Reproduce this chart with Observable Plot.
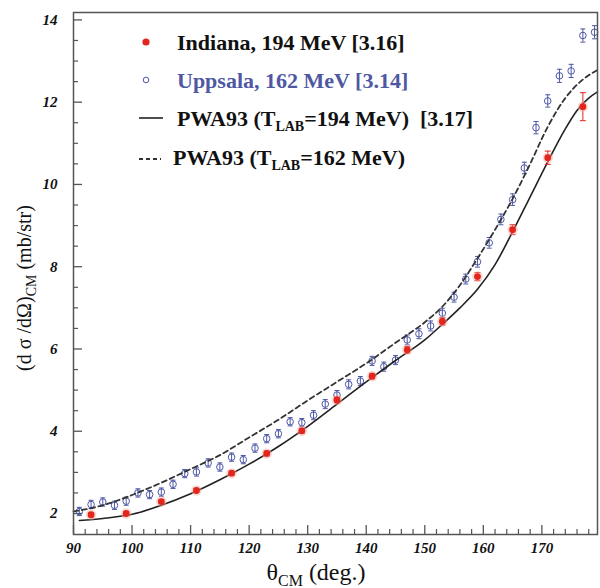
<!DOCTYPE html>
<html><head><meta charset="utf-8">
<script src="https://cdn.jsdelivr.net/npm/d3@7"></script>
<script src="https://cdn.jsdelivr.net/npm/@observablehq/plot@0.6"></script>
<style>
body{margin:0;background:#fff;}
#chart{width:600px;height:588px;}
</style></head><body><div id="chart"></div>
<script>
// Indiana, 194 MeV [3.16]
const indianaAngle = [93,99,105,111,117,123,129,135,141,147,153,159,165,171,177];
const indianaValue = [1.97,2.0,2.29,2.56,2.98,3.46,4.01,4.76,5.34,5.98,6.67,7.76,8.9,10.65,11.89];
const indianaError = [0.05,0.05,0.05,0.05,0.05,0.06,0.06,0.07,0.07,0.08,0.09,0.1,0.12,0.16,0.34];

// Uppsala, 162 MeV [3.14]
const uppsalaAngle = [91,93,95,97,99,101,103,105,107,109,111,113,115,117,119,121,123,125,127,129,131,133,135,137,139,141,143,145,147,149,151,153,155,157,159,161,163,165,167,169,171,173,175,177,179];
const uppsalaValue = [2.05,2.22,2.28,2.20,2.30,2.50,2.46,2.52,2.71,2.97,3.01,3.23,3.13,3.37,3.31,3.59,3.82,3.94,4.23,4.21,4.39,4.66,4.88,5.14,5.22,5.71,5.57,5.73,6.22,6.37,6.56,6.87,7.26,7.70,8.12,8.58,9.15,9.63,10.40,11.38,12.03,12.64,12.76,13.62,13.70];
const uppsalaError = [0.1,0.1,0.1,0.1,0.1,0.1,0.1,0.1,0.1,0.1,0.1,0.1,0.1,0.1,0.1,0.1,0.1,0.1,0.1,0.1,0.11,0.11,0.11,0.11,0.11,0.11,0.11,0.11,0.12,0.12,0.12,0.12,0.12,0.12,0.13,0.13,0.13,0.14,0.14,0.15,0.15,0.16,0.16,0.16,0.16];

// PWA93 (T_LAB = 194 MeV) [3.17]
const pwa194Angle = [91,95,100,105,110,115,120,125,130,135,140,145,150,153,156,159,162,165,168,171,174,176,178,179.5];
const pwa194Value = [1.83,1.88,1.98,2.2,2.48,2.82,3.2,3.63,4.12,4.66,5.2,5.72,6.22,6.6,7.0,7.45,8.05,8.85,9.7,10.55,11.35,11.8,12.1,12.25];

// PWA93 (T_LAB = 162 MeV)
const pwa162Angle = [90,95,100,105,110,115,120,125,130,135,140,145,150,153,156,159,162,165,168,171,174,177,179.5];
const pwa162Value = [2.05,2.2,2.45,2.75,3.08,3.42,3.85,4.28,4.75,5.2,5.65,6.15,6.65,7.03,7.55,8.2,8.9,9.65,10.5,11.4,12.1,12.55,12.78];

const xMajorTicks = [90,100,110,120,130,140,150,160,170];
const xMinorTicks = [92,94,96,98,102,104,106,108,112,114,116,118,122,124,126,128,132,134,136,138,142,144,146,148,152,154,156,158,162,164,166,168,172,174,176,178];
const yMajorTicks = [2,4,6,8,10,12,14];
const yMinorTicks = [2.5,3,3.5,4.5,5,5.5,6.5,7,7.5,8.5,9,9.5,10.5,11,11.5,12.5,13,13.5];

const RED = "#e2261d";
const BLUE = "#4d57a6";
const SERIF = "'Liberation Serif', 'Times New Roman', 'DejaVu Serif', serif";

const indiana = indianaAngle.map((a, i) => ({angle: a, value: indianaValue[i], err: indianaError[i]}));
const uppsala = uppsalaAngle.map((a, i) => ({angle: a, value: uppsalaValue[i], err: uppsalaError[i]}));
const pwa194 = pwa194Angle.map((a, i) => ({angle: a, value: pwa194Value[i]}));
const pwa162 = pwa162Angle.map((a, i) => ({angle: a, value: pwa162Value[i]}));

const capSymbol = {draw(ctx, size) { const w = Math.sqrt(size / Math.PI); ctx.moveTo(-w, 0); ctx.lineTo(w, 0); }};

const tickFont = {fontFamily: SERIF, fontWeight: "bold", fontStyle: "italic", fontSize: 15, fill: "#111"};

const plot = Plot.plot({
  width: 600, height: 588,
  marginLeft: 73, marginRight: 3, marginTop: 12, marginBottom: 54,
  x: {domain: [90, 179.5]},
  y: {domain: [1.49, 14.18]},
  style: {fontFamily: SERIF, background: "white", overflow: "visible"},
  marks: [
    Plot.axisX(xMinorTicks, {tickSize: -5, tickFormat: () => "", label: null, stroke: "#555", strokeWidth: 1.2}),
    Plot.axisX(xMajorTicks, {tickSize: -9, tickFormat: () => "", label: null, stroke: "#555", strokeWidth: 1.3}),
    Plot.axisX(xMajorTicks, {tickSize: 0, tickPadding: 8, label: null, ...tickFont}),
    Plot.axisY(yMinorTicks, {tickSize: -5, tickFormat: () => "", label: null, stroke: "#555", strokeWidth: 1.2}),
    Plot.axisY(yMajorTicks, {tickSize: -9, tickFormat: () => "", label: null, stroke: "#555", strokeWidth: 1.3}),
    Plot.axisY(yMajorTicks, {tickSize: 0, tickPadding: 16, label: null, ...tickFont}),
    // Uppsala error bars & circles
    Plot.ruleX(uppsala, {x: "angle", y1: d => d.value - d.err, y2: d => d.value + d.err, stroke: BLUE, strokeWidth: 1}),
    Plot.dot(uppsala, {x: "angle", y: d => d.value + d.err, symbol: capSymbol, r: 2.5, stroke: BLUE, fill: "none", strokeWidth: 1}),
    Plot.dot(uppsala, {x: "angle", y: d => d.value - d.err, symbol: capSymbol, r: 2.5, stroke: BLUE, fill: "none", strokeWidth: 1}),
    Plot.dot(uppsala, {x: "angle", y: "value", r: 3.3, stroke: BLUE, fill: "none", strokeWidth: 1}),
    // PWA93 curves
    Plot.line(pwa162, {x: "angle", y: "value", curve: "monotone-x", stroke: "#333", strokeWidth: 1.8, strokeDasharray: "5,3.5"}),
    Plot.line(pwa194, {x: "angle", y: "value", curve: "monotone-x", stroke: "#222", strokeWidth: 1.6}),
    // Indiana
    Plot.ruleX(indiana, {x: "angle", y1: d => d.value - d.err, y2: d => d.value + d.err, stroke: RED, strokeWidth: 1}),
    Plot.dot(indiana, {x: "angle", y: d => d.value + d.err, symbol: capSymbol, r: 3, stroke: RED, fill: "none", strokeWidth: 1}),
    Plot.dot(indiana, {x: "angle", y: d => d.value - d.err, symbol: capSymbol, r: 3, stroke: RED, fill: "none", strokeWidth: 1}),
    Plot.dot(indiana, {x: "angle", y: "value", r: 5.3, fill: "#f4aaa2", fillOpacity: 0.45}),
    Plot.dot(indiana, {x: "angle", y: "value", r: 3.4, fill: RED}),
    Plot.frame({stroke: "#555", strokeWidth: 1.5})
  ]
});

document.getElementById("chart").appendChild(plot);

// Labels and legend added as real text inside the SVG
const svg = d3.select(plot);

// y-axis title
const yt = svg.append("text")
  .attr("transform", "translate(31,288) rotate(-90)")
  .attr("text-anchor", "middle")
  .attr("font-family", SERIF).attr("font-size", 20).attr("fill", "#111");
yt.append("tspan").text("(d σ /dΩ)");
yt.append("tspan").attr("dy", 5).attr("font-size", 14).text("CM");
yt.append("tspan").attr("dy", -5).text(" (mb/str)");

// x-axis title
const xt = svg.append("text")
  .attr("x", 316).attr("y", 580)
  .attr("text-anchor", "middle")
  .attr("font-family", SERIF).attr("font-size", 24).attr("fill", "#111");
xt.append("tspan").text("θ");
xt.append("tspan").attr("dy", 6).attr("font-size", 16).text("CM");
xt.append("tspan").attr("dy", -6).text(" (deg.)");

// legend
const lg = svg.append("g").attr("font-family", SERIF).attr("font-weight", "bold").attr("font-size", 22).attr("text-anchor", "start");
lg.append("circle").attr("cx", 146).attr("cy", 42).attr("r", 3.6).attr("fill", RED);
lg.append("text").attr("x", 177).attr("y", 50).attr("fill", "#111").text("Indiana, 194 MeV [3.16]");
lg.append("circle").attr("cx", 146).attr("cy", 80).attr("r", 2.8).attr("fill", "none").attr("stroke", BLUE).attr("stroke-width", 1);
lg.append("text").attr("x", 177).attr("y", 88).attr("fill", "#4f58a3").text("Uppsala, 162 MeV [3.14]");
lg.append("line").attr("x1", 139).attr("x2", 163).attr("y1", 118).attr("y2", 118).attr("stroke", "#222").attr("stroke-width", 1.6);
const t3 = lg.append("text").attr("x", 177).attr("y", 126).attr("fill", "#111");
t3.append("tspan").text("PWA93 (T");
t3.append("tspan").attr("dy", 5).attr("font-size", 14).text("LAB");
t3.append("tspan").attr("dy", -5).text("=194 MeV)  [3.17]");
lg.append("line").attr("x1", 139).attr("x2", 161).attr("y1", 159).attr("y2", 159).attr("stroke", "#333").attr("stroke-width", 1.8).attr("stroke-dasharray", "4,3");
const t4 = lg.append("text").attr("x", 173).attr("y", 165).attr("fill", "#111");
t4.append("tspan").text("PWA93 (T");
t4.append("tspan").attr("dy", 5).attr("font-size", 14).text("LAB");
t4.append("tspan").attr("dy", -5).text("=162 MeV)");
</script>
</body></html>
